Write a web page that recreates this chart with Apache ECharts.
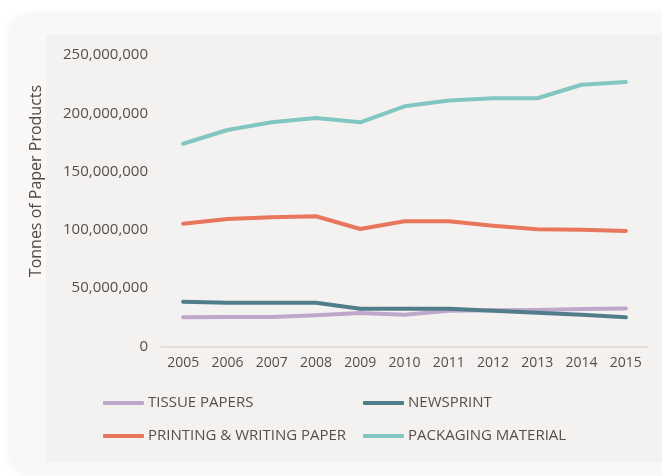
<!DOCTYPE html>
<html>
<head>
<meta charset="utf-8">
<script src="https://cdn.jsdelivr.net/npm/echarts@6/dist/echarts.min.js"></script>
<style>
  html, body { margin: 0; padding: 0; background: #ffffff; }
  #chart { width: 662px; height: 476px; }
</style>
</head>
<body>
<div id="chart"></div>
<script>
// Annual production, tonnes
const years = ['2005', '2006', '2007', '2008', '2009', '2010', '2011', '2012', '2013', '2014', '2015'];
const tissuePapers = [25000000, 25200000, 25300000, 26900000, 28700000, 27200000, 30700000, 31000000, 31300000, 32100000, 32600000];
const newsprint = [38400000, 37600000, 37600000, 37600000, 32400000, 32400000, 32400000, 30700000, 29000000, 27200000, 25000000];
const printingWriting = [105300000, 109300000, 110800000, 111700000, 100800000, 107400000, 107400000, 103600000, 100500000, 100200000, 99100000];
const packagingMaterial = [173900000, 185700000, 192300000, 196000000, 192300000, 206000000, 211000000, 212900000, 212900000, 224500000, 226800000];

const seriesNames = ['TISSUE PAPERS', 'NEWSPRINT', 'PRINTING & WRITING PAPER', 'PACKAGING MATERIAL'];
const seriesColors = ['#bfa7c9', '#517c8a', '#e8765d', '#82c6c1'];
const seriesValues = [tissuePapers, newsprint, printingWriting, packagingMaterial];

const textColor = '#574e4b';
const fontFamily = '"Open Sans", "Noto Sans", sans-serif';

const chart = echarts.init(document.getElementById('chart'), null, { renderer: 'canvas' });

const legendCommon = {
  orient: 'vertical',
  top: 394,
  padding: 0,
  itemWidth: 41,
  itemHeight: 4,
  itemGap: 15,
  icon: 'roundRect',
  textStyle: { color: textColor, fontSize: 15, fontFamily: fontFamily, lineHeight: 18, padding: [0, 0, 0, -1] }
};

chart.setOption({
  animation: false,
  backgroundColor: '#ffffff',
  graphic: [
    {
      type: 'rect',
      z: -100,
      silent: true,
      shape: { x: 10, y: 15, width: 720, height: 458, r: 22 },
      style: { fill: '#f9f8f6', shadowBlur: 10, shadowColor: 'rgba(0,0,0,0.07)' }
    },
    {
      type: 'rect',
      z: -99,
      silent: true,
      shape: { x: 46, y: 35, width: 700, height: 427 },
      style: { fill: '#f3f2f0' }
    },
    {
      type: 'text',
      z: 10,
      x: 36,
      y: 181,
      rotation: Math.PI / 2,
      style: {
        text: 'Tonnes of Paper Products',
        fill: '#4f4846',
        font: '16px "Open Sans", "Noto Sans", sans-serif',
        align: 'center',
        verticalAlign: 'middle'
      }
    }
  ],
  grid: { left: 161, right: 14, top: 55, bottom: 129.5, containLabel: false },
  legend: [
    Object.assign({}, legendCommon, { left: 103, data: [seriesNames[0], seriesNames[2]] }),
    Object.assign({}, legendCommon, { left: 363, data: [seriesNames[1], seriesNames[3]] })
  ],
  xAxis: {
    type: 'category',
    data: years,
    boundaryGap: true,
    axisTick: { show: false },
    axisLine: { lineStyle: { color: '#dcd7d3', width: 1.5 } },
    axisLabel: { color: textColor, fontSize: 14, fontFamily: fontFamily, margin: 10 }
  },
  yAxis: {
    type: 'value',
    min: 0,
    max: 250000000,
    interval: 50000000,
    splitLine: { show: false },
    axisLine: { show: false },
    axisTick: { show: false },
    axisLabel: {
      color: textColor,
      fontSize: 15,
      fontFamily: fontFamily,
      margin: 13,
      formatter: function (v) { return v.toLocaleString('en-US'); }
    }
  },
  series: seriesNames.map(function (name, i) {
    return {
      name: name,
      type: 'line',
      data: seriesValues[i],
      symbol: 'none',
      color: seriesColors[i],
      lineStyle: { width: 4, color: seriesColors[i], cap: 'round', join: 'round' },
      z: i === 0 ? 2 : 3
    };
  })
});
</script>
</body>
</html>
